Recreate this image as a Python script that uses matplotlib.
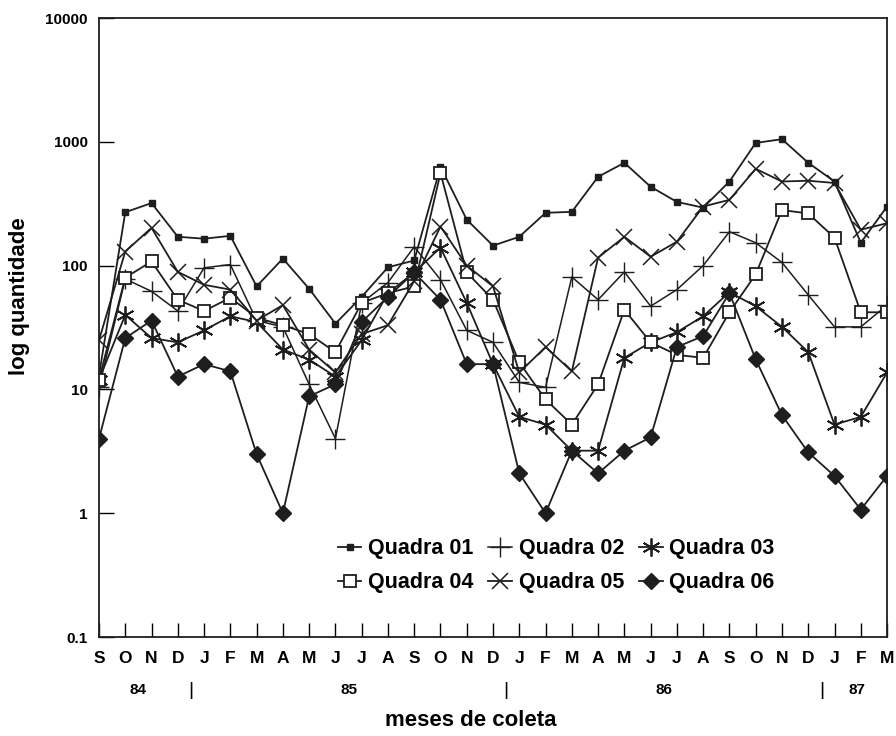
import numpy as np
import matplotlib
matplotlib.use("Agg")
import matplotlib.pyplot as plt

plt.rcParams['font.family'] = ['Liberation Sans', 'DejaVu Sans']
plt.rcParams['font.weight'] = 'bold'

# months of collection, Sep 1984 .. Mar 1987
meses = ['S', 'O', 'N', 'D', 'J', 'F', 'M', 'A', 'M', 'J', 'J', 'A', 'S', 'O', 'N', 'D',
         'J', 'F', 'M', 'A', 'M', 'J', 'J', 'A', 'S', 'O', 'N', 'D', 'J', 'F', 'M']

quadra01 = [13, 270, 320, 171, 165, 174, 68, 114, 65, 34, 56, 97, 110, 630, 235, 145,
            171, 267, 272, 522, 677, 434, 327, 294, 478, 980, 1050, 677, 478, 153, 300]
quadra02 = [10.5, 78, 62, 43, 96, 102, 36, 32, 11, 4, 50, 73, 142, 77, 30, 24,
            11.4, 10.4, 81, 53, 89, 47, 64, 100, 188, 153, 106, 58, 32, 32, 48]
quadra03 = [12, 40, 26, 24, 30, 39, 35, 21, 17.4, 12.7, 25, 60, 88, 140, 50, 16,
            6, 5.2, 3.2, 3.2, 18, 24, 29, 39, 61, 47, 32, 20, 5.2, 6, 13.7]
quadra04 = [12, 80, 108, 53, 43, 55, 38, 33, 28, 20, 50, 60, 68, 560, 88, 53,
            16.5, 8.3, 5.2, 11, 44, 24, 19, 18, 42, 85, 281, 264, 168, 42, 42]
quadra05 = [25, 130, 202, 89, 70, 64, 36, 48, 21, 13.7, 28, 33, 75, 207, 100, 68,
            13.7, 22, 14, 116, 171, 118, 156, 300, 340, 605, 478, 485, 465, 195, 220]
quadra06 = [4, 26, 36, 12.7, 16, 14, 3, 1, 8.8, 11, 35, 56, 88, 53, 16, 16,
            2.1, 1, 3.2, 2.1, 3.2, 4.1, 22, 27, 60, 17.5, 6.2, 3.1, 2, 1.07, 2]

anos = ['84', '85', '86', '87']
anos_pos = [1.5, 9.5, 21.5, 28.85]
divisas = [3.5, 15.5, 27.5]

x = np.arange(len(meses))
cor = '#1e1e1e'

fig = plt.figure(figsize=(8.96, 7.36), dpi=100)
ax = fig.add_axes([0.1105, 0.1345, 0.8795, 0.841])

h1, = ax.plot(x, quadra01, color=cor, lw=1.3, marker='s', ms=4, mfc=cor, mec=cor, label='Quadra 01')
h2, = ax.plot(x, quadra02, color=cor, lw=1.1, marker='+', ms=15, mew=1.0, label='Quadra 02')
h3, = ax.plot(x, quadra03, color=cor, lw=1.3, marker=(6, 2, 0), ms=13, mew=1.3, label='Quadra 03')
h4, = ax.plot(x, quadra04, color=cor, lw=1.3, marker='s', ms=9, mfc='white', mec=cor, mew=1.3, label='Quadra 04')
h5, = ax.plot(x, quadra05, color=cor, lw=1.3, marker='x', ms=12, mew=1.1, label='Quadra 05')
h6, = ax.plot(x, quadra06, color=cor, lw=1.3, marker='D', ms=8, mfc=cor, mec=cor, label='Quadra 06')

ax.set_yscale('log')
ax.set_ylim(0.1, 10000)
ax.set_xlim(0, len(meses) - 1)

ax.set_yticks([0.1, 1, 10, 100, 1000, 10000])
ax.set_yticklabels(['0.1', '1', '10', '100', '1000', '10000'], fontsize=11, fontweight='bold')
ax.yaxis.set_minor_locator(matplotlib.ticker.NullLocator())
ax.tick_params(axis='y', direction='in', length=11, width=1.0, pad=8)

ax.set_xticks(x)
ax.set_xticklabels(meses, fontsize=12.5, fontweight='bold')
ax.tick_params(axis='x', direction='in', length=10, width=1.0, pad=10)

for s in ax.spines.values():
    s.set_linewidth(1.3)
    s.set_color(cor)

# year labels and separators under the month row
for a, p in zip(anos, anos_pos):
    ax.text(p, -0.086, a, transform=ax.get_xaxis_transform(), ha='center', va='center',
            fontsize=11, fontweight='bold')
for d in divisas:
    ax.text(d, -0.086, '|', transform=ax.get_xaxis_transform(), ha='center', va='center',
            fontsize=14, fontweight='normal')

ax.set_ylabel('log quantidade', fontsize=16, fontweight='bold')
ax.yaxis.set_label_coords(-0.088, 0.55)
fig.text(471 / 896, 1 - 721 / 736, 'meses de coleta', ha='center', va='center',
         fontsize=16, fontweight='bold')

# legend laid out row by row: 01 02 03 / 04 05 06
ax.legend([h1, h4, h2, h5, h3, h6],
          ['Quadra 01', 'Quadra 04', 'Quadra 02', 'Quadra 05', 'Quadra 03', 'Quadra 06'],
          ncol=3, loc='center', bbox_to_anchor=(0.58, 0.115), frameon=False,
          prop={'size': 15.5, 'weight': 'bold'}, handlelength=1.1, handletextpad=0.3,
          columnspacing=0.7, labelspacing=0.6)

fig.savefig('out.png', dpi=100)
